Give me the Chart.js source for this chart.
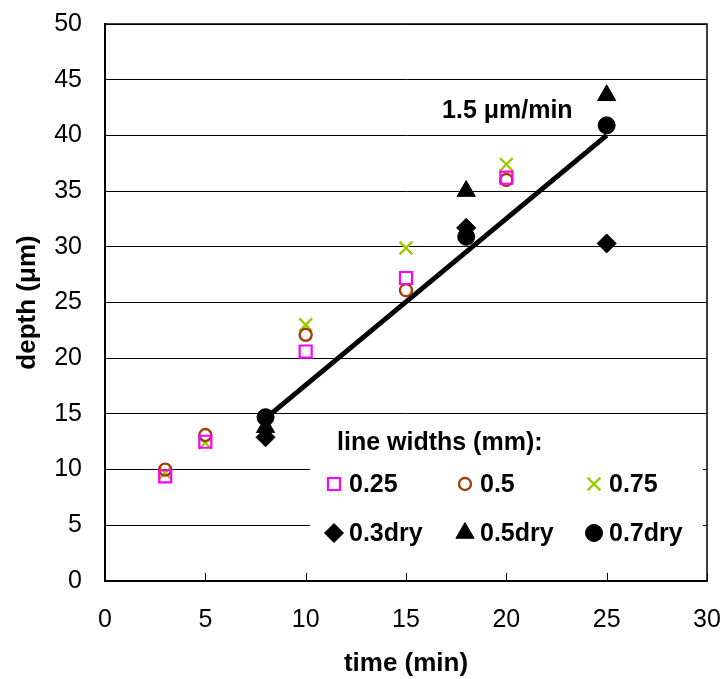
<!DOCTYPE html>
<html lang="en">
<head>
<meta charset="UTF-8">
<title>depth vs time</title>
<script src="https://cdn.jsdelivr.net/npm/chart.js"></script>
<style>
    html, body { margin: 0; padding: 0; background: #fff; }
</style>
</head>
<body>
<canvas id="depthChart" width="722" height="679"></canvas>
<script>
    // values
    const wetTimes = [3, 5, 10, 15, 20];
    const dryTimes = [8, 18, 25];
    const depth025 = [9.4, 12.5, 20.6, 27.2, 36.2];
    const depth05 = [10.0, 13.1, 22.1, 26.1, 36.0];
    const depth075 = [9.7, 12.4, 23.0, 29.9, 37.4];
    const depth03dry = [12.9, 31.7, 30.3];
    const depth05dry = [13.8, 35.0, 43.6];
    const depth07dry = [14.7, 30.9, 40.9];
    const fitTimes = [8, 25];
    const fitDepth = [14.6, 40.0];
    const xTicks = [0, 5, 10, 15, 20, 25, 30];
    const yTicks = [0, 5, 10, 15, 20, 25, 30, 35, 40, 45, 50];
    const rateNote = '1.5 \u03bcm/min';
    const notePos = { x: 20.05, y: 42.2 };

    const FONT = '"Liberation Sans", Arial, sans-serif';
    const pts = (xs, ys) => xs.map((x, i) => ({ x: x, y: ys[i] }));

    const datasets = [
        { label: '0.25', data: pts(wetTimes, depth025), pointStyle: 'rect', pointRadius: 8.5,
          backgroundColor: 'rgba(0,0,0,0)', borderColor: '#ff00ff', borderWidth: 2.2, inLegend: true },
        { label: '0.5', data: pts(wetTimes, depth05), pointStyle: 'circle', pointRadius: 6,
          backgroundColor: 'rgba(0,0,0,0)', borderColor: '#a0400a', borderWidth: 2.4, inLegend: true },
        { label: '0.75', data: pts(wetTimes, depth075), pointStyle: 'crossRot', pointRadius: 9,
          backgroundColor: 'rgba(0,0,0,0)', borderColor: '#99cc00', borderWidth: 2.4, inLegend: true },
        { label: '0.3dry', data: pts(dryTimes, depth03dry), pointStyle: 'rectRot', pointRadius: 9.5,
          backgroundColor: '#000', borderColor: '#000', borderWidth: 1, inLegend: true },
        { label: '0.5dry', data: pts(dryTimes, depth05dry), pointStyle: 'triangle', pointRadius: 10.5,
          backgroundColor: '#000', borderColor: '#000', borderWidth: 1, inLegend: true },
        { label: '0.7dry', data: pts(dryTimes, depth07dry), pointStyle: 'circle', pointRadius: 8.5,
          backgroundColor: '#000', borderColor: '#000', borderWidth: 1, inLegend: true },
        { label: 'fit', data: pts(fitTimes, fitDepth), showLine: true, pointRadius: 0,
          borderColor: '#000', borderWidth: 5, inLegend: false }
    ];

    // top and right frame, short inner ticks on the time axis
    const frame = {
        id: 'frame',
        beforeDatasetsDraw(chart) {
            const { ctx, chartArea: a, scales: { x } } = chart;
            ctx.save();
            ctx.strokeStyle = '#000';
            ctx.lineWidth = 1.5;
            ctx.beginPath();
            ctx.moveTo(a.left, a.top);
            ctx.lineTo(a.right, a.top);
            ctx.lineTo(a.right, a.bottom);
            ctx.stroke();
            ctx.lineWidth = 1;
            ctx.beginPath();
            x.ticks.forEach(t => {
                const px = Math.round(x.getPixelForValue(t.value)) + 0.5;
                ctx.moveTo(px, a.bottom);
                ctx.lineTo(px, a.bottom - 8);
            });
            ctx.stroke();
            ctx.restore();
        }
    };

    // legend box inside the plot + rate note
    const legendBox = {
        id: 'legendBox',
        afterDatasetsDraw(chart) {
            const { ctx, scales: { x, y } } = chart;
            ctx.save();
            ctx.fillStyle = '#fff';
            ctx.fillRect(310, 421, 393, 146);
            ctx.fillStyle = '#000';
            ctx.font = 'bold 25px ' + FONT;
            ctx.textBaseline = 'middle';
            ctx.textAlign = 'left';
            ctx.fillText('line widths (mm):', 337, 443);
            const cols = [334, 465, 594];
            const rows = [484, 533];
            let k = 0;
            chart.data.datasets.forEach(ds => {
                if (!ds.inLegend) return;
                const px = cols[k % 3], py = rows[Math.floor(k / 3)];
                k++;
                ctx.fillStyle = ds.backgroundColor;
                ctx.strokeStyle = ds.borderColor;
                ctx.lineWidth = ds.borderWidth;
                Chart.helpers.drawPoint(ctx, {
                    pointStyle: ds.pointStyle, radius: ds.pointRadius,
                    borderWidth: ds.borderWidth, rotation: 0
                }, px, py);
                ctx.fillStyle = '#000';
                ctx.fillText(ds.label, px + 15, py + 1);
            });
            ctx.textAlign = 'center';
            ctx.fillText(rateNote, x.getPixelForValue(notePos.x), y.getPixelForValue(notePos.y));
            ctx.restore();
        }
    };

    new Chart(document.getElementById('depthChart'), {
        type: 'scatter',
        data: { datasets: datasets },
        options: {
            responsive: false,
            animation: false,
            layout: { padding: { top: 24, right: 15, bottom: 0, left: 0 } },
            plugins: { legend: { display: false }, tooltip: { enabled: false } },
            scales: {
                x: {
                    type: 'linear', min: 0, max: 30,
                    afterBuildTicks: s => { s.ticks = xTicks.map(v => ({ value: v })); },
                    afterFit: s => { s.height = 98; s.paddingLeft = 0; s.paddingRight = 0; },
                    grid: { display: false },
                    border: { display: true, color: '#000', width: 2 },
                    ticks: { color: '#000', padding: 16, font: { family: FONT, size: 25 } },
                    title: {
                        display: true, text: 'time (min)', color: '#000',
                        padding: { top: 0, bottom: 0 },
                        font: { family: FONT, size: 26, weight: 'bold' }
                    }
                },
                y: {
                    type: 'linear', min: 0, max: 50,
                    afterBuildTicks: s => { s.ticks = yTicks.map(v => ({ value: v })); },
                    afterFit: s => { s.width = 105; s.paddingTop = 0; s.paddingBottom = 0; },
                    grid: { color: '#000', lineWidth: 1, drawTicks: false },
                    border: { display: true, color: '#000', width: 2 },
                    ticks: { color: '#000', padding: 23, font: { family: FONT, size: 25 } },
                    title: {
                        display: true, text: 'depth (\u03bcm)', color: '#000',
                        padding: { top: 12, bottom: 0 },
                        font: { family: FONT, size: 26, weight: 'bold' }
                    }
                }
            }
        },
        plugins: [frame, legendBox]
    });
</script>
</body>
</html>
